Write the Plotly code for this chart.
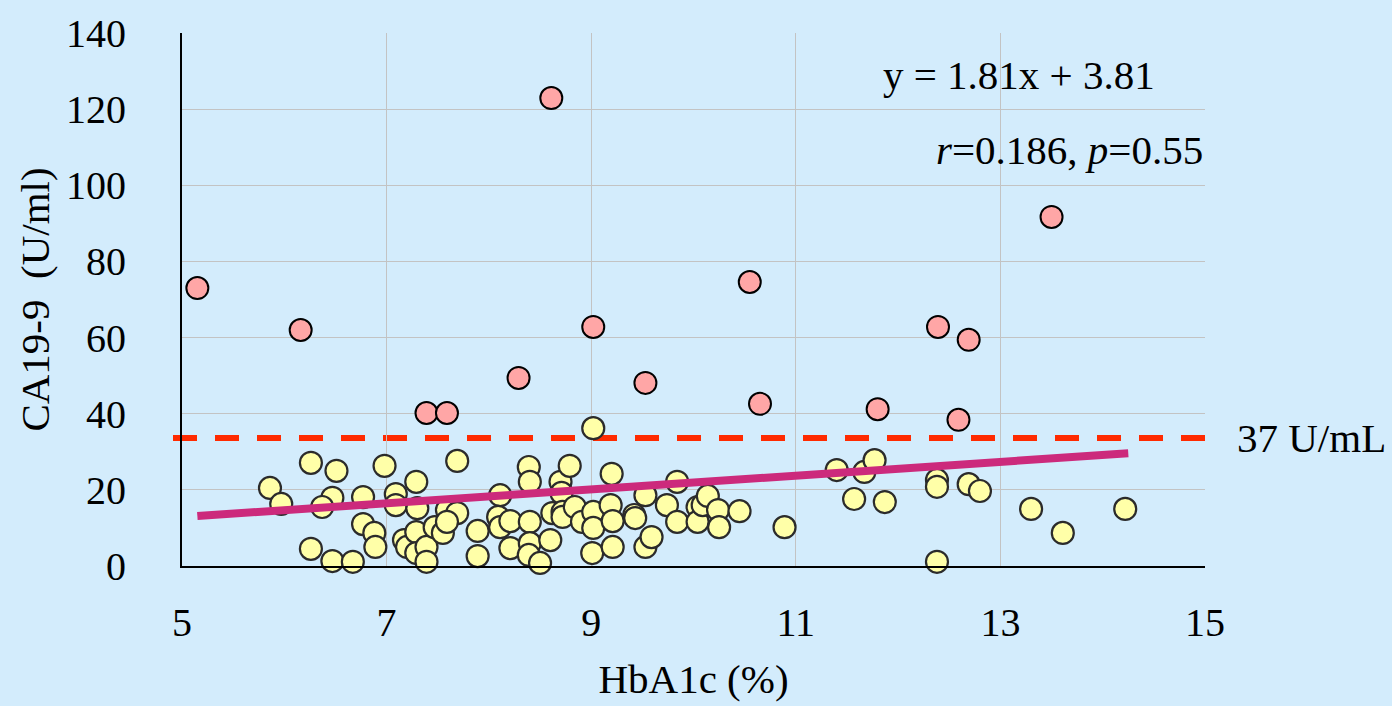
import plotly.graph_objects as go

# Patients below cutoff (yellow)
hba1c_low = [5.86, 5.97, 6.26, 6.51, 6.47, 6.37, 6.26, 6.47, 6.67, 6.77, 6.77, 6.88, 6.89, 6.98,
             7.09, 7.09, 7.29, 7.30, 7.17, 7.20, 7.29, 7.29, 7.39, 7.39, 7.47, 7.55, 7.59, 7.69,
             7.69, 7.89, 7.89, 8.11, 8.09, 8.11, 8.21, 8.21, 8.39, 8.40, 8.40, 8.40, 8.39, 8.50,
             8.60, 8.62, 8.70, 8.71, 8.72, 8.72, 8.79, 8.84, 8.91, 9.02, 9.02, 9.01, 9.02, 9.20,
             9.19, 9.21, 9.21, 9.42, 9.43, 9.53, 9.53, 9.59, 9.74, 9.84, 9.84, 10.04, 10.04, 10.09,
             10.14, 10.24, 10.25, 10.45, 10.89, 11.40, 11.57, 11.67, 11.77, 11.87, 12.38, 12.38,
             12.38, 12.69, 12.80, 13.30, 13.61, 14.22, 7.59]
ca199_low = [20.5, 16.3, 27.1, 25.0, 17.9, 15.5, 4.5, 1.3, 1.1, 18.1, 11.0, 8.7, 5.0, 26.3,
             18.9, 16.0, 22.1, 15.2, 6.8, 5.0, 8.9, 3.4, 5.0, 1.1, 10.2, 8.7, 14.7, 27.6,
             13.9, 9.2, 2.6, 18.6, 12.9, 10.2, 11.8, 4.7, 26.0, 22.1, 11.6, 6.0, 2.9, 0.8,
             6.8, 13.9, 22.1, 19.2, 14.2, 12.9, 26.3, 15.5, 11.6, 14.2, 10.0, 3.4, 36.2, 24.2,
             16.0, 11.8, 5.0, 13.4, 12.6, 18.6, 5.0, 7.6, 16.0, 22.1, 11.6, 15.5, 11.6, 16.0,
             18.4, 14.7, 10.2, 14.4, 10.2, 25.2, 17.6, 24.7, 27.8, 16.8, 22.6, 20.8,
             1.1, 21.5, 19.7, 15.0, 8.7, 15.0, 11.6]

# Patients above cutoff (pink)
hba1c_high = [5.15, 6.16, 7.39, 7.59, 8.29, 8.61, 9.02, 9.53, 10.55, 10.65, 11.80, 12.39, 12.69, 12.59, 13.50]
ca199_high = [73.0, 62.0, 40.2, 40.2, 49.4, 122.9, 62.8, 48.1, 74.6, 42.6, 41.2, 62.8, 59.4, 38.4, 91.7]

slope, intercept = 1.81, 3.81
fit_x = [5.15, 14.25]
fit_y = [slope * v + intercept for v in fit_x]
cutoff_y = 33.6

x_ticks = [5, 7, 9, 11, 13, 15]
y_ticks = [0, 20, 40, 60, 80, 100, 120, 140]

FONT = "Liberation Serif, Times New Roman, serif"
BG = "#d3ecfc"

fig = go.Figure()
fig.add_trace(go.Scatter(
    x=hba1c_low, y=ca199_low, mode="markers",
    marker=dict(size=22, color="#ffffa8", line=dict(color="#2b2b2b", width=2.2)),
    showlegend=False, cliponaxis=False))
fig.add_trace(go.Scatter(
    x=hba1c_high, y=ca199_high, mode="markers",
    marker=dict(size=22, color="#ffa6a6", line=dict(color="#000000", width=2)),
    showlegend=False, cliponaxis=False))
fig.add_trace(go.Scatter(
    x=fit_x, y=fit_y, mode="lines",
    line=dict(color="#cc2a7c", width=8), showlegend=False))

fig.add_shape(type="line", xref="paper", yref="y",
              x0=-9 / 1023, x1=1.0, y0=cutoff_y, y1=cutoff_y,
              line=dict(color="#ff2a00", width=6, dash="24px,18px"), layer="between")

fig.add_annotation(xref="paper", yref="y", x=(1235 - 182) / 1023, y=cutoff_y,
                   text="37 U/mL", showarrow=False, xanchor="left", yanchor="middle",
                   font=dict(family=FONT, size=41, color="#000"))
fig.add_annotation(xref="x", yref="y", x=11.83, y=129, text="y = 1.81x + 3.81",
                   showarrow=False, xanchor="left", yanchor="middle",
                   font=dict(family=FONT, size=41, color="#000"))
fig.add_annotation(xref="x", yref="y", x=15, y=109.3, text="<i>r</i>=0.186, <i>p</i>=0.55",
                   showarrow=False, xanchor="right", yanchor="middle",
                   font=dict(family=FONT, size=41, color="#000"))

fig.update_layout(
    width=1392, height=706,
    margin=dict(l=182, r=187, t=33, b=140),
    paper_bgcolor=BG, plot_bgcolor=BG,
    font=dict(family=FONT, size=40, color="#000"),
    xaxis=dict(range=[5, 15], tickvals=x_ticks, ticktext=[str(v) for v in x_ticks],
               showgrid=True, gridcolor="#c3c3c3", gridwidth=1.3,
               showline=True, linecolor="#000", linewidth=2, zeroline=False,
               ticks="", ticklabelstandoff=20, tickfont=dict(family=FONT, size=40),
               title=dict(text="HbA1c (%)", standoff=20, font=dict(family=FONT, size=41))),
    yaxis=dict(range=[0, 140], tickvals=y_ticks, ticktext=[str(v) for v in y_ticks],
               showgrid=True, gridcolor="#c3c3c3", gridwidth=1.3,
               showline=True, linecolor="#000", linewidth=2, zeroline=False,
               ticks="", ticklabelstandoff=46, tickfont=dict(family=FONT, size=40),
               title=dict(text="CA19-9  (U/ml)", standoff=4, font=dict(family=FONT, size=41))),
)

fig.write_html("out.html", config={"displayModeBar": False},
               post_script="document.body.style.margin='0';document.body.style.background='%s';" % BG)
